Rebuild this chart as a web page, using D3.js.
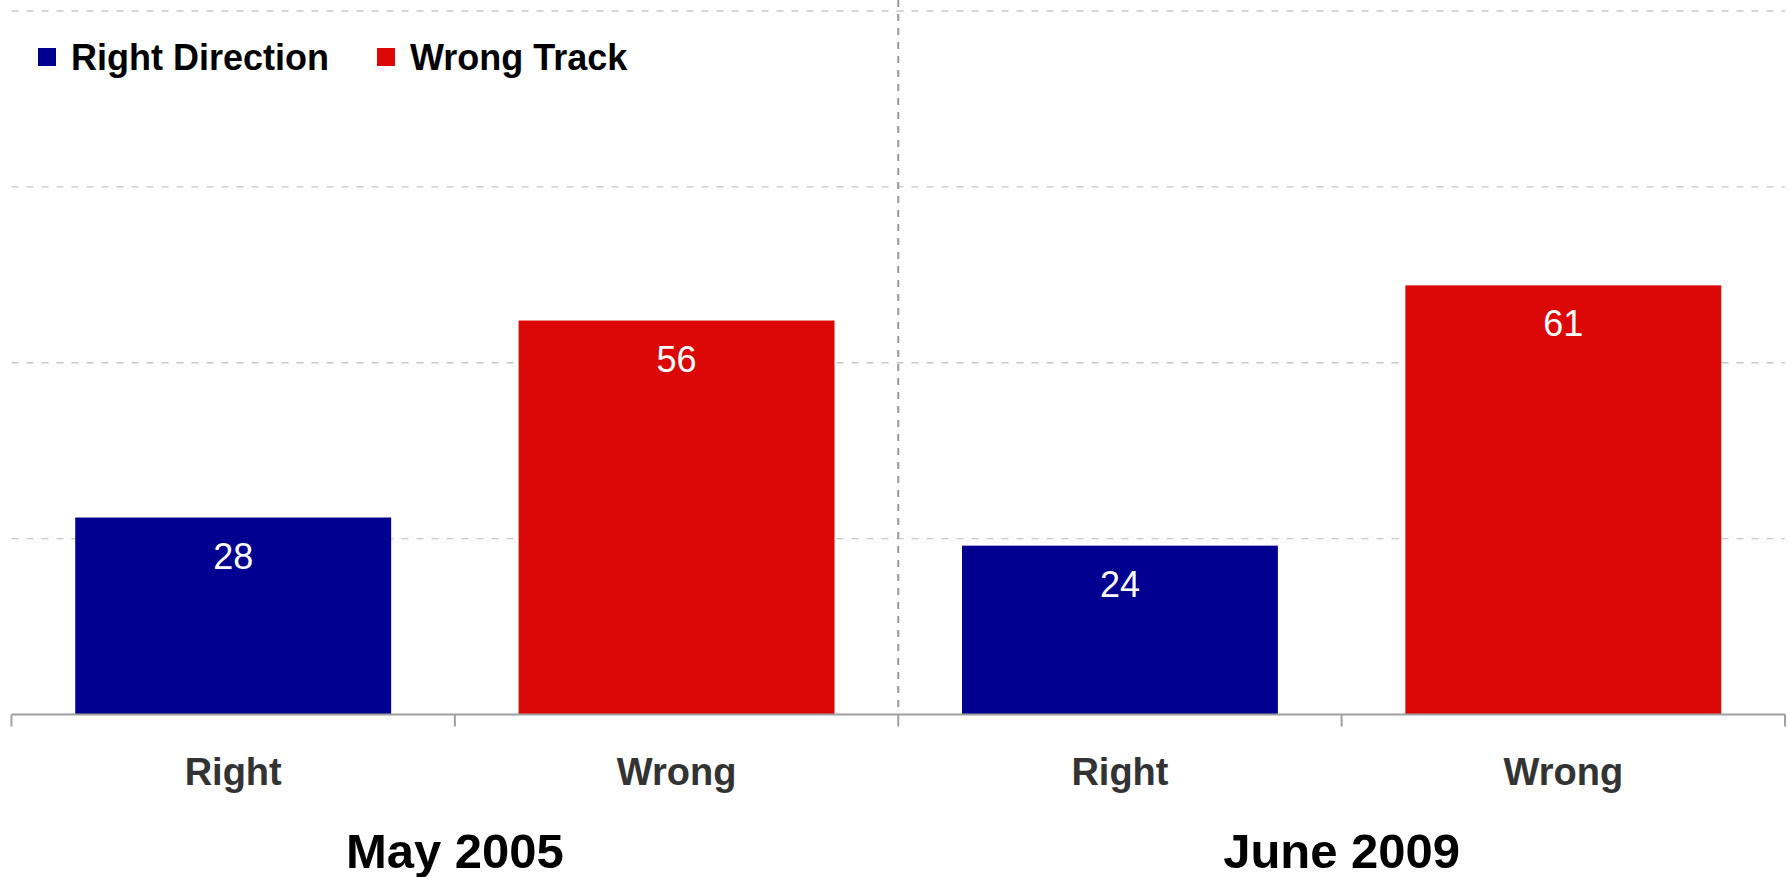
<!DOCTYPE html>
<html>
<head>
<meta charset="utf-8">
<script src="https://cdn.jsdelivr.net/npm/d3@7"></script>
<style>
  html, body { margin: 0; padding: 0; background: #fff; }
  svg { display: block; font-family: "Liberation Sans", Arial, Helvetica, sans-serif; }
</style>
</head>
<body>
<svg id="chart" width="1788" height="877"></svg>
<script>
// ---- data ----
const groups = ["May 2005", "June 2009"];
const answers = ["Right", "Wrong"];
const seriesNames = ["Right Direction", "Wrong Track"];
const rightValues = [28, 24];
const wrongValues = [56, 61];
const yTicks = [25, 50, 75, 100];
const colors = ["#000090", "#DC0808"];

(function () {
  // ---- build rows ----
  const rows = [];
  groups.forEach((g, i) => {
    rows.push({ group: g, answer: answers[0], series: 0, value: rightValues[i] });
    rows.push({ group: g, answer: answers[1], series: 1, value: wrongValues[i] });
  });

  const svg = d3.select("#chart");
  const plotLeft = 11.5, plotRight = 1785, plotTop = 11, baseline = 714.5;

  const x = d3.scaleBand()
    .domain(rows.map((d, i) => i))
    .range([plotLeft, plotRight])
    .paddingInner(0.2875)
    .paddingOuter(0.14375);

  const y = d3.scaleLinear().domain([0, 100]).range([baseline, plotTop]);

  // gridlines
  svg.append("g").selectAll("line").data(yTicks).join("line")
    .attr("x1", plotLeft).attr("x2", plotRight)
    .attr("y1", d => y(d)).attr("y2", d => y(d))
    .attr("stroke", "#c8c8c8").attr("stroke-width", 1.3)
    .attr("stroke-dasharray", "7,8");

  // group separator (dashed vertical)
  const step = x.step();
  const groupX = gi => plotLeft + step * 2 * gi;
  svg.append("g").selectAll("line").data(groups.slice(1)).join("line")
    .attr("x1", (d, i) => groupX(i + 1)).attr("x2", (d, i) => groupX(i + 1))
    .attr("y1", 0).attr("y2", baseline)
    .attr("stroke", "#999").attr("stroke-width", 2)
    .attr("stroke-dasharray", "7,7");

  // bars
  svg.append("g").selectAll("rect").data(rows).join("rect")
    .attr("x", (d, i) => x(i))
    .attr("width", x.bandwidth())
    .attr("y", d => y(d.value))
    .attr("height", d => baseline - y(d.value))
    .attr("fill", d => colors[d.series]);

  // value labels
  svg.append("g").selectAll("text").data(rows).join("text")
    .attr("x", (d, i) => x(i) + x.bandwidth() / 2)
    .attr("y", d => y(d.value) + 51)
    .attr("text-anchor", "middle")
    .attr("fill", "#fff")
    .attr("font-size", 36)
    .text(d => d.value);

  // axis line and boundary ticks
  svg.append("line")
    .attr("x1", plotLeft).attr("x2", plotRight)
    .attr("y1", baseline).attr("y2", baseline)
    .attr("stroke", "#a0a0a0").attr("stroke-width", 2);
  const bounds = d3.range(rows.length + 1).map(i => plotLeft + step * i);
  svg.append("g").selectAll("line").data(bounds).join("line")
    .attr("x1", d => d).attr("x2", d => d)
    .attr("y1", baseline).attr("y2", baseline + 12)
    .attr("stroke", "#a0a0a0").attr("stroke-width", 2);

  // category labels
  svg.append("g").selectAll("text").data(rows).join("text")
    .attr("x", (d, i) => x(i) + x.bandwidth() / 2)
    .attr("y", 785)
    .attr("text-anchor", "middle")
    .attr("fill", "#333")
    .attr("font-size", 38)
    .attr("font-weight", "bold")
    .text(d => d.answer);

  // group labels
  svg.append("g").selectAll("text").data(groups).join("text")
    .attr("x", (d, i) => groupX(i) + step)
    .attr("y", 868)
    .attr("text-anchor", "middle")
    .attr("fill", "#000")
    .attr("font-size", 49)
    .attr("font-weight", "bold")
    .text(d => d);

  // legend
  const legendX = [38, 377];
  const lg = svg.append("g").selectAll("g").data(seriesNames).join("g")
    .attr("transform", (d, i) => `translate(${legendX[i]},0)`);
  lg.append("rect").attr("x", 0).attr("y", 48).attr("width", 18).attr("height", 18)
    .attr("fill", (d, i) => colors[i]);
  lg.append("text").attr("x", 33).attr("y", 70)
    .attr("font-size", 36).attr("font-weight", "bold").attr("fill", "#000")
    .text(d => d);
})();
</script>
</body>
</html>
